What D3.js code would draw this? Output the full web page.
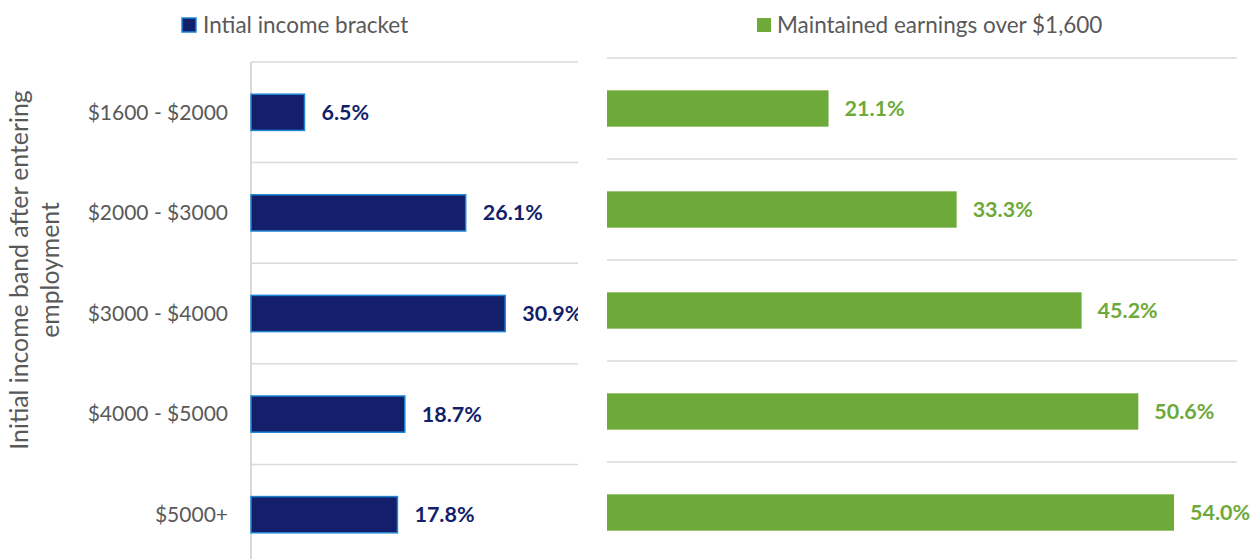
<!DOCTYPE html>
<html>
<head>
<meta charset="utf-8">
<script src="https://cdn.jsdelivr.net/npm/d3@7"></script>
<style>
  body { margin: 0; background: #fff; }
  svg { display: block; font-family: Lato, "Open Sans", sans-serif; }
</style>
</head>
<body>
<svg id="chart" width="1260" height="559"></svg>
<script>
const categories = ["$1600 - $2000", "$2000 - $3000", "$3000 - $4000", "$4000 - $5000", "$5000+"];
const initialBracket = [6.5, 26.1, 30.9, 18.7, 17.8];
const maintainedOver1600 = [21.1, 33.3, 45.2, 50.6, 54.0];
const seriesNames = ["Intial income bracket", "Maintained earnings over $1,600"];
const axisTitle = ["Initial income band after entering", "employment"];

const navy = "#131f6b", navyEdge = "#1f86d4", green = "#6eaa3a";
const gridColor = "#d9d9d9", textColor = "#595959";

const svg = d3.select("#chart");

svg.append("defs").append("clipPath").attr("id", "leftClip")
  .append("rect").attr("x", 0).attr("y", 0).attr("width", 578).attr("height", 559);

// left panel scales
const yL = d3.scaleBand().domain(categories).range([62, 565]).padding(0);
const xL = d3.scaleLinear().domain([0, 39.75]).range([251, 578]);
// right panel scales
const yR = d3.scaleBand().domain(categories).range([58, 563]).padding(0);
const xR = d3.scaleLinear().domain([0, 60]).range([607, 1237]);

const barRatio = 0.36;

// gridlines
svg.append("g").selectAll("line")
  .data(categories).enter().append("line")
  .attr("x1", xL.range()[0]).attr("x2", xL.range()[1])
  .attr("y1", d => yL(d)).attr("y2", d => yL(d))
  .attr("stroke", gridColor).attr("stroke-width", 1.5);

svg.append("g").selectAll("line")
  .data(categories).enter().append("line")
  .attr("x1", xR.range()[0]).attr("x2", xR.range()[1])
  .attr("y1", d => yR(d)).attr("y2", d => yR(d))
  .attr("stroke", gridColor).attr("stroke-width", 1.5);

// left vertical axis line
svg.append("line")
  .attr("x1", xL(0)).attr("x2", xL(0))
  .attr("y1", yL.range()[0]).attr("y2", yL.range()[1])
  .attr("stroke", gridColor).attr("stroke-width", 2);

// category labels
svg.append("g").selectAll("text")
  .data(categories).enter().append("text")
  .attr("x", 228)
  .attr("y", d => yL(d) + yL.bandwidth() / 2)
  .attr("dy", "0.35em")
  .attr("text-anchor", "end")
  .attr("font-size", 21)
  .attr("fill", textColor)
  .text(d => d);

// axis title
svg.append("text")
  .attr("transform", "translate(28,270) rotate(-90)")
  .attr("text-anchor", "middle")
  .attr("font-size", 24.8)
  .attr("fill", textColor)
  .selectAll("tspan")
  .data(axisTitle).enter().append("tspan")
  .attr("x", 0)
  .attr("y", (d, i) => i * 31)
  .text(d => d);

// left bars
const leftG = svg.append("g").attr("clip-path", "url(#leftClip)");
const hL = yL.bandwidth() * barRatio;
leftG.selectAll("rect")
  .data(initialBracket).enter().append("rect")
  .attr("x", xL(0))
  .attr("y", (d, i) => yL(categories[i]) + (yL.bandwidth() - hL) / 2)
  .attr("width", d => xL(d) - xL(0))
  .attr("height", hL)
  .attr("fill", navy)
  .attr("stroke", navyEdge)
  .attr("stroke-width", 1.5);

leftG.selectAll("text")
  .data(initialBracket).enter().append("text")
  .attr("x", d => xL(d) + 17)
  .attr("y", (d, i) => yL(categories[i]) + yL.bandwidth() / 2)
  .attr("dy", "0.35em")
  .attr("font-size", 21.5)
  .attr("font-weight", "bold")
  .attr("fill", navy)
  .text(d => d.toFixed(1) + "%");

// right bars
const hR = yR.bandwidth() * barRatio;
svg.append("g").selectAll("rect")
  .data(maintainedOver1600).enter().append("rect")
  .attr("x", xR(0))
  .attr("y", (d, i) => yR(categories[i]) + (yR.bandwidth() - hR) / 2)
  .attr("width", d => xR(d) - xR(0))
  .attr("height", hR)
  .attr("fill", green);

svg.append("g").selectAll("text")
  .data(maintainedOver1600).enter().append("text")
  .attr("x", d => xR(d) + 16)
  .attr("y", (d, i) => yR(categories[i]) + yR.bandwidth() / 2)
  .attr("dy", "0.35em")
  .attr("font-size", 21.5)
  .attr("font-weight", "bold")
  .attr("fill", green)
  .text(d => d.toFixed(1) + "%");

// legends
const legendL = svg.append("g").attr("transform", "translate(182,18)");
legendL.append("rect").attr("width", 14).attr("height", 14)
  .attr("fill", navy).attr("stroke", navyEdge).attr("stroke-width", 1.5);
legendL.append("text").attr("x", 21).attr("y", 7).attr("dy", "0.35em")
  .attr("font-size", 22.5).attr("fill", textColor).text(seriesNames[0]);

const legendR = svg.append("g").attr("transform", "translate(757,18)");
legendR.append("rect").attr("width", 14).attr("height", 14).attr("fill", green);
legendR.append("text").attr("x", 20).attr("y", 7).attr("dy", "0.35em")
  .attr("font-size", 22.5).attr("fill", textColor).text(seriesNames[1]);
</script>
</body>
</html>
